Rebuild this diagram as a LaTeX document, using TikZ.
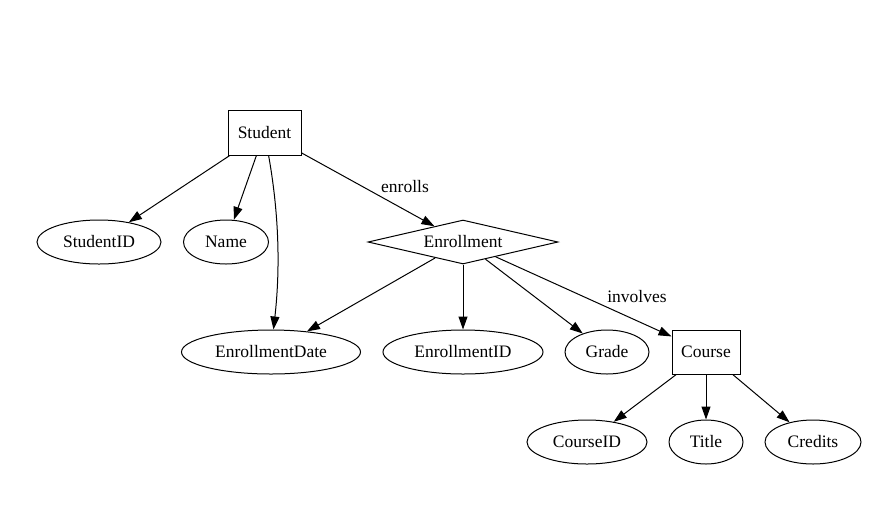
\documentclass[tikz,border=0pt]{standalone}
\usepackage{fontspec}
\setmainfont{Liberation Serif}
\usetikzlibrary{shapes.geometric, arrows.meta}

\tikzset{
    entity/.style={draw, rectangle, minimum width=73pt, minimum height=45pt, inner sep=0pt},
    attr/.style={draw, ellipse, minimum height=44pt, inner sep=0pt},
    relation/.style={draw, diamond, aspect=4.3, minimum width=190pt, minimum height=44pt, inner sep=0pt},
    elabel/.style={inner sep=0pt},
    link/.style={-{Triangle[length=13pt, width=9pt]}}
}

\begin{document}
\begin{tikzpicture}[x=1pt, y=-1pt, font=\fontsize{17.5pt}{20pt}\selectfont, line width=1pt]
    \useasboundingbox (0, 0) rectangle (872, 507);

    % Entities and relation
    \node[entity] (student) at (264.5, 132.5) {Student};
    \node[relation] (enrollment) at (463, 242) {Enrollment};
    \node[entity, minimum width=68pt, minimum height=44pt] (course) at (706, 352) {Course};

    % Attributes
    \node[attr, minimum width=124pt] (studentid) at (99, 242) {StudentID};
    \node[attr, minimum width=85pt] (name) at (226, 242) {Name};
    \node[attr, minimum width=179pt] (enrdate) at (271, 352) {EnrollmentDate};
    \node[attr, minimum width=160pt] (enrid) at (463, 352) {EnrollmentID};
    \node[attr, minimum width=84pt] (grade) at (607, 352) {Grade};
    \node[attr, minimum width=120pt] (courseid) at (587, 442) {CourseID};
    \node[attr, minimum width=74pt] (title) at (706, 442) {Title};
    \node[attr, minimum width=96pt] (credits) at (813, 442) {Credits};

    % Edge labels
    \node[elabel] (enrolls) at (405, 187) {enrolls};
    \node[elabel] (involves) at (637, 297) {involves};

    % Student edges
    \draw[link] (student) -- (studentid);
    \draw[link] (student) -- (name);
    \draw[link] (student) .. controls (281, 225) and (279, 280) .. (enrdate);
    \draw[link] (student) -- (enrollment);

    % Enrollment edges
    \draw[link] (enrollment) -- (enrdate);
    \draw[link] (enrollment) -- (enrid);
    \draw[link] (enrollment) -- (grade);
    \draw[link] (enrollment) -- (course);

    % Course edges
    \draw[link] (course) -- (courseid);
    \draw[link] (course) -- (title);
    \draw[link] (course) -- (credits);
\end{tikzpicture}
\end{document}
